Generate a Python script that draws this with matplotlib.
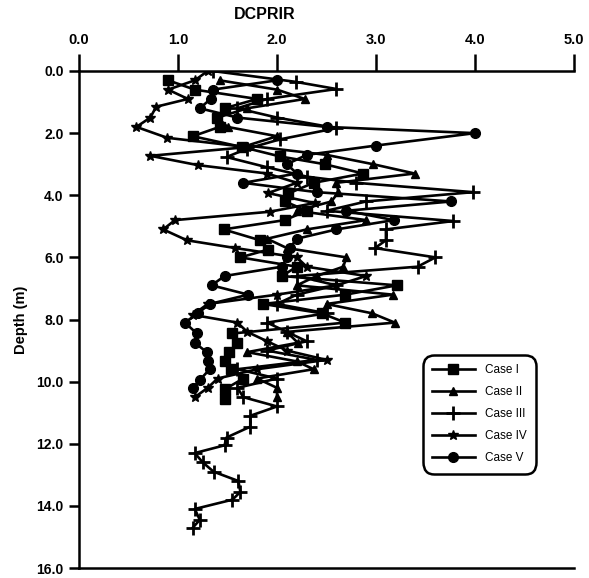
import matplotlib
matplotlib.use("Agg")
import matplotlib.pyplot as plt
from matplotlib.lines import Line2D

plt.rcParams['font.family'] = ['Liberation Sans', 'DejaVu Sans']

# ---- data ----
case1_depth = [0.3, 0.6, 0.9, 1.2, 1.5, 1.8, 2.1, 2.45, 2.75, 3.0, 3.3, 3.6, 3.95, 4.2, 4.5,
               4.8, 5.1, 5.45, 5.75, 6.0, 6.3, 6.6, 6.9, 7.2, 7.5, 7.8, 8.1, 8.45, 8.75, 9.05,
               9.35, 9.6, 9.9, 10.25, 10.55]
case1_val = [0.9, 1.17, 1.8, 1.47, 1.39, 1.42, 1.15, 1.65, 2.03, 2.48, 2.87, 2.37, 2.11, 2.08, 2.3,
             2.08, 1.46, 1.83, 1.91, 1.63, 2.2, 2.05, 3.21, 2.69, 1.86, 2.45, 2.69, 1.55, 1.6, 1.52,
             1.47, 1.54, 1.66, 1.47, 1.47]

case2_depth = [0.3, 0.6, 0.9, 1.2, 1.5, 1.8, 2.1, 2.4, 2.7, 3.0, 3.3, 3.6, 3.9, 4.2, 4.5,
               4.8, 5.1, 5.4, 5.7, 6.0, 6.3, 6.6, 6.9, 7.2, 7.5, 7.8, 8.1, 8.4, 8.75, 9.05,
               9.35, 9.6, 9.9, 10.2, 10.5]
case2_val = [1.42, 2.0, 2.28, 1.7, 1.4, 1.5, 2.0, 1.7, 2.5, 2.97, 3.39, 2.6, 2.62, 2.55, 2.2,
             2.9, 2.3, 1.9, 2.1, 2.7, 2.67, 2.4, 2.2, 3.17, 2.5, 2.96, 3.19, 2.1, 2.21, 1.7,
             2.2, 2.37, 1.8, 2.0, 2.0]

case3_depth = [0.0, 0.35, 0.58, 0.9, 1.2, 1.5, 1.84, 2.2, 2.5, 2.77, 3.1, 3.4, 3.6, 3.9, 4.2,
               4.5, 4.83, 5.1, 5.45, 5.7, 6.0, 6.3, 6.6, 6.9, 7.2, 7.5, 7.8, 8.1, 8.4, 8.7,
               9.0, 9.3, 9.6, 9.9, 10.2, 10.5, 10.8, 11.1, 11.45, 11.8, 12.05, 12.3, 12.6, 12.9,
               13.2, 13.55, 13.8, 14.1, 14.45, 14.7]
case3_val = [1.35, 2.19, 2.6, 1.9, 1.6, 2.0, 2.6, 2.03, 1.7, 1.49, 1.9, 2.3, 2.8, 3.98, 2.9,
             2.5, 3.78, 3.1, 3.1, 2.99, 3.6, 3.42, 2.2, 2.6, 2.2, 2.0, 2.5, 1.9, 2.1, 2.3,
             1.9, 2.4, 1.6, 2.0, 1.6, 1.66, 2.0, 1.73, 1.73, 1.49, 1.47, 1.17, 1.25, 1.36,
             1.61, 1.63, 1.55, 1.17, 1.22, 1.15]

case4_depth = [0.0, 0.3, 0.6, 0.9, 1.15, 1.5, 1.8, 2.15, 2.45, 2.73, 3.03, 3.3, 3.6, 3.93, 4.25,
               4.53, 4.8, 5.1, 5.45, 5.7, 6.0, 6.3, 6.6, 6.9, 7.2, 7.5, 7.85, 8.1, 8.4, 8.7,
               9.0, 9.3, 9.6, 9.9, 10.2, 10.5]
case4_val = [1.3, 1.17, 0.9, 1.1, 0.78, 0.72, 0.58, 0.89, 1.7, 0.72, 1.2, 1.9, 2.2, 1.91, 2.38,
             1.93, 0.97, 0.85, 1.09, 1.58, 2.2, 2.3, 2.9, 2.6, 2.0, 1.3, 1.15, 1.6, 1.7, 1.9,
             2.1, 2.5, 1.8, 1.4, 1.3, 1.17]

case5_depth = [0.3, 0.6, 0.9, 1.2, 1.5, 1.8, 2.0, 2.4, 2.7, 3.0, 3.3, 3.6, 3.9, 4.2, 4.5,
               4.8, 5.1, 5.4, 5.7, 6.0, 6.3, 6.6, 6.9, 7.2, 7.5, 7.8, 8.1, 8.45, 8.75, 9.05,
               9.35, 9.6, 9.95, 10.2]
case5_val = [2.0, 1.35, 1.33, 1.22, 1.6, 2.5, 4.0, 3.0, 2.3, 2.1, 2.2, 1.66, 2.4, 3.76, 2.7,
             3.18, 2.6, 2.2, 2.13, 2.1, 2.05, 1.47, 1.34, 1.71, 1.32, 1.2, 1.07, 1.19, 1.17, 1.29,
             1.3, 1.32, 1.22, 1.15]

series_names = ["Case I", "Case II", "Case III", "Case IV", "Case V"]
x_ticks = [0.0, 1.0, 2.0, 3.0, 4.0, 5.0]
y_ticks = [0.0, 2.0, 4.0, 6.0, 8.0, 10.0, 12.0, 14.0, 16.0]

fig = plt.figure(figsize=(5.89, 5.78), dpi=100)
ax = fig.add_axes([79/589, 1 - 568/578, (574-79)/589, (568-71)/578])

styles = [dict(marker='s', ms=7, mew=1),
          dict(marker='^', ms=6, mew=1),
          dict(marker='+', ms=9.5, mew=2),
          dict(marker='*', ms=7.5, mew=1),
          dict(marker='o', ms=7, mew=1)]
data = [(case1_val, case1_depth), (case2_val, case2_depth), (case3_val, case3_depth),
        (case4_val, case4_depth), (case5_val, case5_depth)]

for (xv, yv), st, name in zip(data, styles, series_names):
    ax.plot(xv, yv, color='black', lw=1.9, label=name, **st)

ax.set_xlim(0, 5)
ax.set_ylim(16, 0)
ax.set_xticks(x_ticks)
ax.set_xticklabels([f"{v:.1f}" for v in x_ticks], fontsize=10.5, fontweight='bold')
ax.set_yticks(y_ticks)
ax.set_yticklabels([f"{v:.1f}" for v in y_ticks], fontsize=10, fontweight='bold')
ax.xaxis.tick_top()
ax.xaxis.set_label_position('top')
ax.tick_params(axis='x', direction='out', length=12, width=1.8, pad=5)
ax.tick_params(axis='y', direction='out', length=7, width=1.8, pad=4)
ax.set_xlabel("DCPRIR", fontsize=11.5, fontweight='bold')
ax.xaxis.set_label_coords((265-79)/495, 1.105)
ax.set_ylabel("Depth (m)", fontsize=10.5, fontweight='bold', labelpad=6)
for s in ['left', 'top', 'bottom']:
    ax.spines[s].set_linewidth(1.8)
ax.spines['right'].set_visible(False)

handles = [Line2D([], [], color='black', lw=1.9, **st) for st in styles]
leg = ax.legend(handles, series_names, loc='upper left',
                bbox_to_anchor=((425-79)/495, (568-357)/497),
                frameon=True, fancybox=True, edgecolor='black', framealpha=1,
                prop=dict(size=8.5), handlelength=3.6, handletextpad=0.9,
                labelspacing=0.85, borderpad=0.6, borderaxespad=0)
leg.get_frame().set_linewidth(1.8)
leg.get_frame().set_boxstyle('round,pad=0.2,rounding_size=1.0')

fig.savefig("out.png", dpi=100)
